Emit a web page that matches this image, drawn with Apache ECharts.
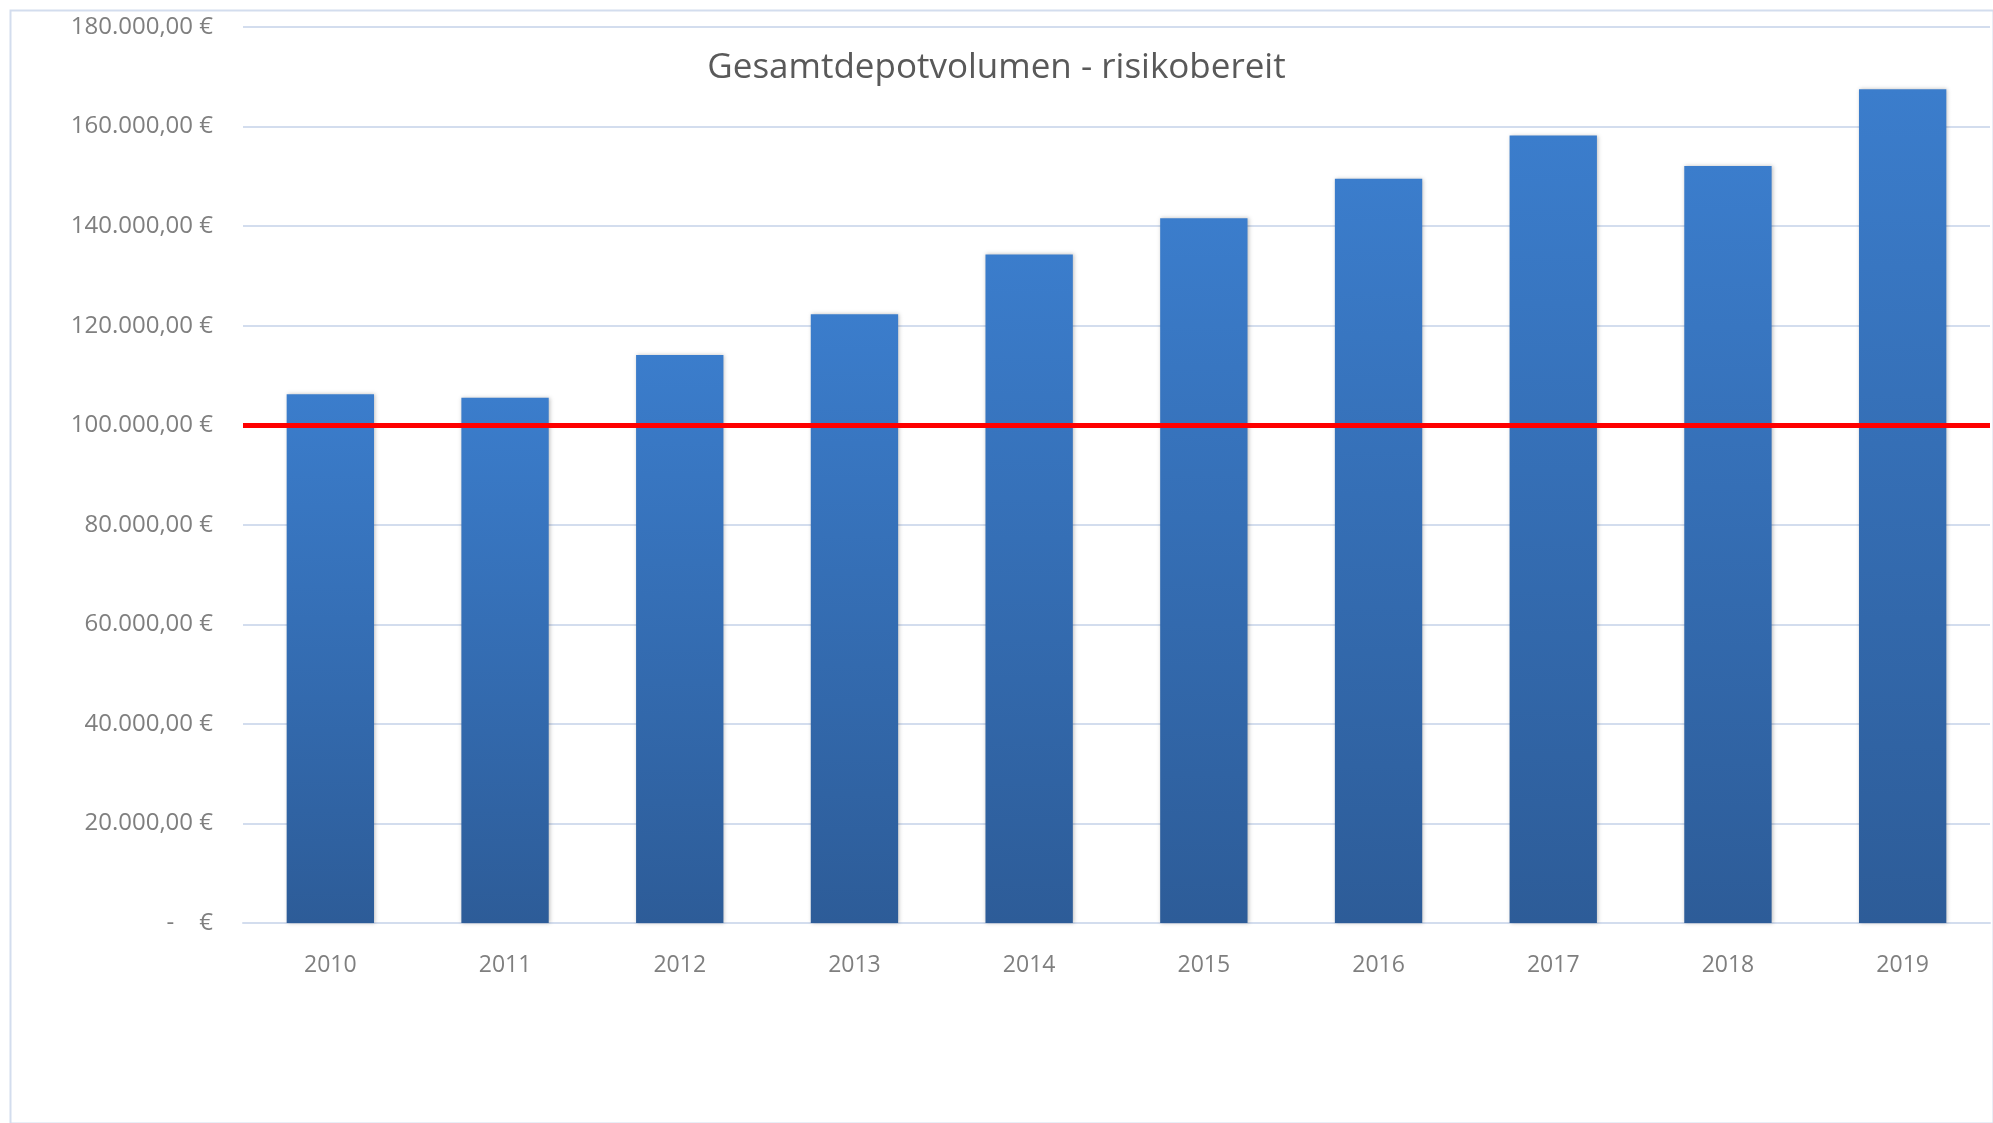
<!DOCTYPE html>
<html>
<head>
<meta charset="utf-8">
<script src="https://cdn.jsdelivr.net/npm/echarts@6/dist/echarts.min.js"></script>
<style>
html,body{margin:0;padding:0;background:#fff;}
#chart{width:1993px;height:1123px;}
</style>
</head>
<body>
<div id="chart"></div>
<script>
const titleText = 'Gesamtdepotvolumen - risikobereit';
const years = ['2010','2011','2012','2013','2014','2015','2016','2017','2018','2019'];
const depotVolumen = [106200, 105500, 114100, 122300, 134300, 141600, 149500, 158200, 152100, 167500];
const schwelle = 100000;
const yMin = 0, yMax = 180000, yStep = 20000;

function euro(v){
  if (v === 0) return '-    €';
  const s = Math.round(v).toString().replace(/\B(?=(\d{3})+(?!\d))/g, '.');
  return s + ',00 €';
}

const font = '"Open Sans", sans-serif';
const chart = echarts.init(document.getElementById('chart'), null, {renderer:'canvas'});
chart.setOption({
  backgroundColor:'#ffffff',
  animation:false,
  title:{
    text:titleText, left:'center', top:46,
    textStyle:{fontFamily:font, fontSize:35, fontWeight:'normal', color:'#595959'}
  },
  graphic:[{
    type:'rect', left:8, top:8, z:-1,
    shape:{x:0,y:0,width:1983,height:1113},
    style:{fill:'none', stroke:'#d3ddee', lineWidth:2}
  }],
  grid:{left:243, right:3, top:27, bottom:200, containLabel:false},
  xAxis:{
    type:'category', data:years,
    axisLine:{show:true, lineStyle:{color:'#d3ddee', width:2}},
    axisTick:{show:false},
    axisLabel:{fontFamily:font, fontSize:23, color:'#7f7f7f', margin:31}
  },
  yAxis:{
    type:'value', min:yMin, max:yMax, interval:yStep,
    axisLine:{show:false}, axisTick:{show:false},
    splitLine:{lineStyle:{color:'#d3ddee', width:2}},
    axisLabel:{fontFamily:font, fontSize:24, color:'#7f7f7f', margin:30, formatter:euro}
  },
  series:[{
    type:'bar', data:depotVolumen, barCategoryGap:'50%',
    itemStyle:{
      color:new echarts.graphic.LinearGradient(0,0,0,1,[
        {offset:0,color:'#3b7dcc'},{offset:1,color:'#2d5c98'}
      ]),
      shadowBlur:4, shadowColor:'rgba(0,0,0,0.25)', shadowOffsetX:1, shadowOffsetY:0
    },
    markLine:{
      silent:true, symbol:'none', label:{show:false},
      lineStyle:{color:'#ff0000', width:5, type:'solid'},
      data:[{yAxis:schwelle}]
    }
  }]
});
</script>
</body>
</html>
